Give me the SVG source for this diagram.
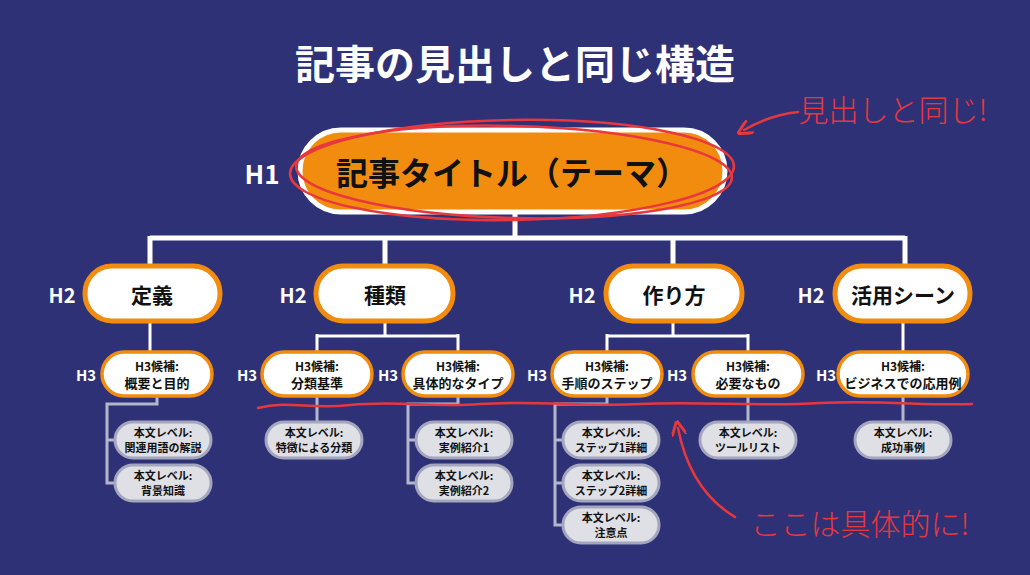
<svg xmlns="http://www.w3.org/2000/svg" width="1030" height="575" viewBox="0 0 1030 575">
<style>
text{font-family:"Noto Sans CJK JP","Noto Sans",sans-serif;font-weight:700;text-anchor:middle;dominant-baseline:central}
.wl{fill:#fff}
.h2{fill:#fff;stroke:#f28c0f;stroke-width:5}
.h3{fill:#fff;stroke:#f28c0f;stroke-width:3.5}
.bd{fill:#dfe0e6;stroke:#a3a6bd;stroke-width:3}
.l1{stroke:#fff;stroke-width:5;fill:none}
.l2{stroke:#fff;stroke-width:3;fill:none}
.l3{stroke:#b4b7cc;stroke-width:3;fill:none}
.red{stroke:#e8383d;fill:none;stroke-width:2.5;stroke-linecap:round}
.rt{fill:#e8383d;font-weight:300}
.t2{font-size:21px;fill:#111}
.t3a{font-size:12px;fill:#111}
.t3b{font-size:13px;fill:#111}
.tb{font-size:11px;fill:#111}
.lab{fill:#fff;font-size:20px}
.lab3{fill:#fff;font-size:15px}
</style>
<defs><marker id="ah" viewBox="0 0 10 10" refX="5" refY="5" markerWidth="6" markerHeight="6" orient="auto"><path d="M0,0 L10,5 L0,10" fill="none" stroke="#e8383d" stroke-width="2"/></marker></defs>
<rect width="1030" height="575" fill="#2f3176"/>
<text x="515" y="62" class="wl" style="font-size:40px">記事の見出しと同じ構造</text>
<g id="connectors">
<path class="l1" d="M515 212V238M150 238H905M150 236V268M385 236V268M673 236V268M905 236V268"/>
<path class="l2" d="M150 321V354M385 321V336M317 336H458M317 334V354M458 334V354M673 321V336M607 336H748M607 334V354M748 334V354M903 321V354"/>
<path class="l3" d="M157 396V404H107V483H117M107 440H117M317 396V424M458 396V404H408V483H418M408 440H418M607 396V404H555V525H565M555 440H565M555 483H565M748 396V424M903 396V424"/>
</g>
<g id="h1"><rect x="300" y="130" width="425" height="82" rx="41" fill="#f28c0f" stroke="#fff" stroke-width="5"/><text x="512" y="171" style="font-size:32px;fill:#111">記事タイトル（テーマ）</text><text x="262" y="172" class="lab" style="font-size:26px">H1</text></g>
<g id="h2a"><rect class="h2" x="85" y="266" width="135" height="55" rx="27"/><text x="152" y="294" class="t2">定義</text><text x="62" y="294" class="lab">H2</text></g>
<g id="h2b"><rect class="h2" x="316" y="266" width="137" height="55" rx="27"/><text x="385" y="294" class="t2">種類</text><text x="293" y="294" class="lab">H2</text></g>
<g id="h2c"><rect class="h2" x="606" y="266" width="136" height="55" rx="27"/><text x="674" y="294" class="t2">作り方</text><text x="582" y="294" class="lab">H2</text></g>
<g id="h2d"><rect class="h2" x="835" y="266" width="135" height="55" rx="27"/><text x="903" y="294" class="t2">活用シーン</text><text x="811" y="294" class="lab">H2</text></g>
<g id="h3a"><rect class="h3" x="102" y="352" width="110" height="44" rx="22"/><text x="157" y="365" class="t3a">H3候補:</text><text x="157" y="382" class="t3b">概要と目的</text><text x="86" y="374" class="lab3">H3</text></g>
<g id="h3b"><rect class="h3" x="262" y="352" width="110" height="44" rx="22"/><text x="317" y="365" class="t3a">H3候補:</text><text x="317" y="382" class="t3b">分類基準</text><text x="247" y="374" class="lab3">H3</text></g>
<g id="h3c"><rect class="h3" x="403" y="352" width="110" height="44" rx="22"/><text x="458" y="365" class="t3a">H3候補:</text><text x="458" y="382" class="t3b">具体的なタイプ</text><text x="388" y="374" class="lab3">H3</text></g>
<g id="h3d"><rect class="h3" x="552" y="352" width="110" height="44" rx="22"/><text x="607" y="365" class="t3a">H3候補:</text><text x="607" y="382" class="t3b">手順のステップ</text><text x="537" y="374" class="lab3">H3</text></g>
<g id="h3e"><rect class="h3" x="693" y="352" width="110" height="44" rx="22"/><text x="748" y="365" class="t3a">H3候補:</text><text x="748" y="382" class="t3b">必要なもの</text><text x="677" y="374" class="lab3">H3</text></g>
<g id="h3f"><rect class="h3" x="838" y="352" width="130" height="44" rx="22"/><text x="903" y="365" class="t3a">H3候補:</text><text x="903" y="382" class="t3b">ビジネスでの応用例</text><text x="826" y="374" class="lab3">H3</text></g>
<g id="b1"><rect class="bd" x="115" y="422" width="96" height="36" rx="18"/><text x="163" y="432" class="tb">本文レベル:</text><text x="163" y="447" class="tb">関連用語の解説</text></g>
<g id="b2"><rect class="bd" x="115" y="465" width="96" height="36" rx="18"/><text x="163" y="475" class="tb">本文レベル:</text><text x="163" y="490" class="tb">背景知識</text></g>
<g id="b3"><rect class="bd" x="266" y="422" width="96" height="36" rx="18"/><text x="314" y="432" class="tb">本文レベル:</text><text x="314" y="447" class="tb">特徴による分類</text></g>
<g id="b4"><rect class="bd" x="416" y="422" width="96" height="36" rx="18"/><text x="464" y="432" class="tb">本文レベル:</text><text x="464" y="447" class="tb">実例紹介1</text></g>
<g id="b5"><rect class="bd" x="416" y="465" width="96" height="36" rx="18"/><text x="464" y="475" class="tb">本文レベル:</text><text x="464" y="490" class="tb">実例紹介2</text></g>
<g id="b6"><rect class="bd" x="563" y="422" width="96" height="36" rx="18"/><text x="611" y="432" class="tb">本文レベル:</text><text x="611" y="447" class="tb">ステップ1詳細</text></g>
<g id="b7"><rect class="bd" x="563" y="465" width="96" height="36" rx="18"/><text x="611" y="475" class="tb">本文レベル:</text><text x="611" y="490" class="tb">ステップ2詳細</text></g>
<g id="b8"><rect class="bd" x="563" y="507" width="96" height="36" rx="18"/><text x="611" y="517" class="tb">本文レベル:</text><text x="611" y="532" class="tb">注意点</text></g>
<g id="b9"><rect class="bd" x="700" y="422" width="96" height="36" rx="18"/><text x="748" y="432" class="tb">本文レベル:</text><text x="748" y="447" class="tb">ツールリスト</text></g>
<g id="b10"><rect class="bd" x="855" y="422" width="96" height="36" rx="18"/><text x="903" y="432" class="tb">本文レベル:</text><text x="903" y="447" class="tb">成功事例</text></g>
<g id="annotations">
<ellipse class="red" cx="512" cy="170" rx="222" ry="50" transform="rotate(-1 512 170)"/>
<ellipse class="red" cx="514" cy="172" rx="218" ry="46" transform="rotate(1.5 514 172)"/>
<path class="red" d="M798 112 Q770 115 744 130" marker-end="url(#ah)"/>
<text x="893" y="108" class="rt" style="font-size:30px">見出しと同じ!</text>
<path class="red" d="M258 408 C290 400 310 410 350 405 C400 400 430 408 480 404 C540 400 580 407 640 404 C700 401 760 407 820 403 C880 400 930 406 972 404"/>
<path class="red" d="M735 517 Q690 490 678 428" marker-end="url(#ah)"/>
<text x="860" y="522" class="rt" style="font-size:30px">ここは具体的に!</text>
</g>
</svg>
